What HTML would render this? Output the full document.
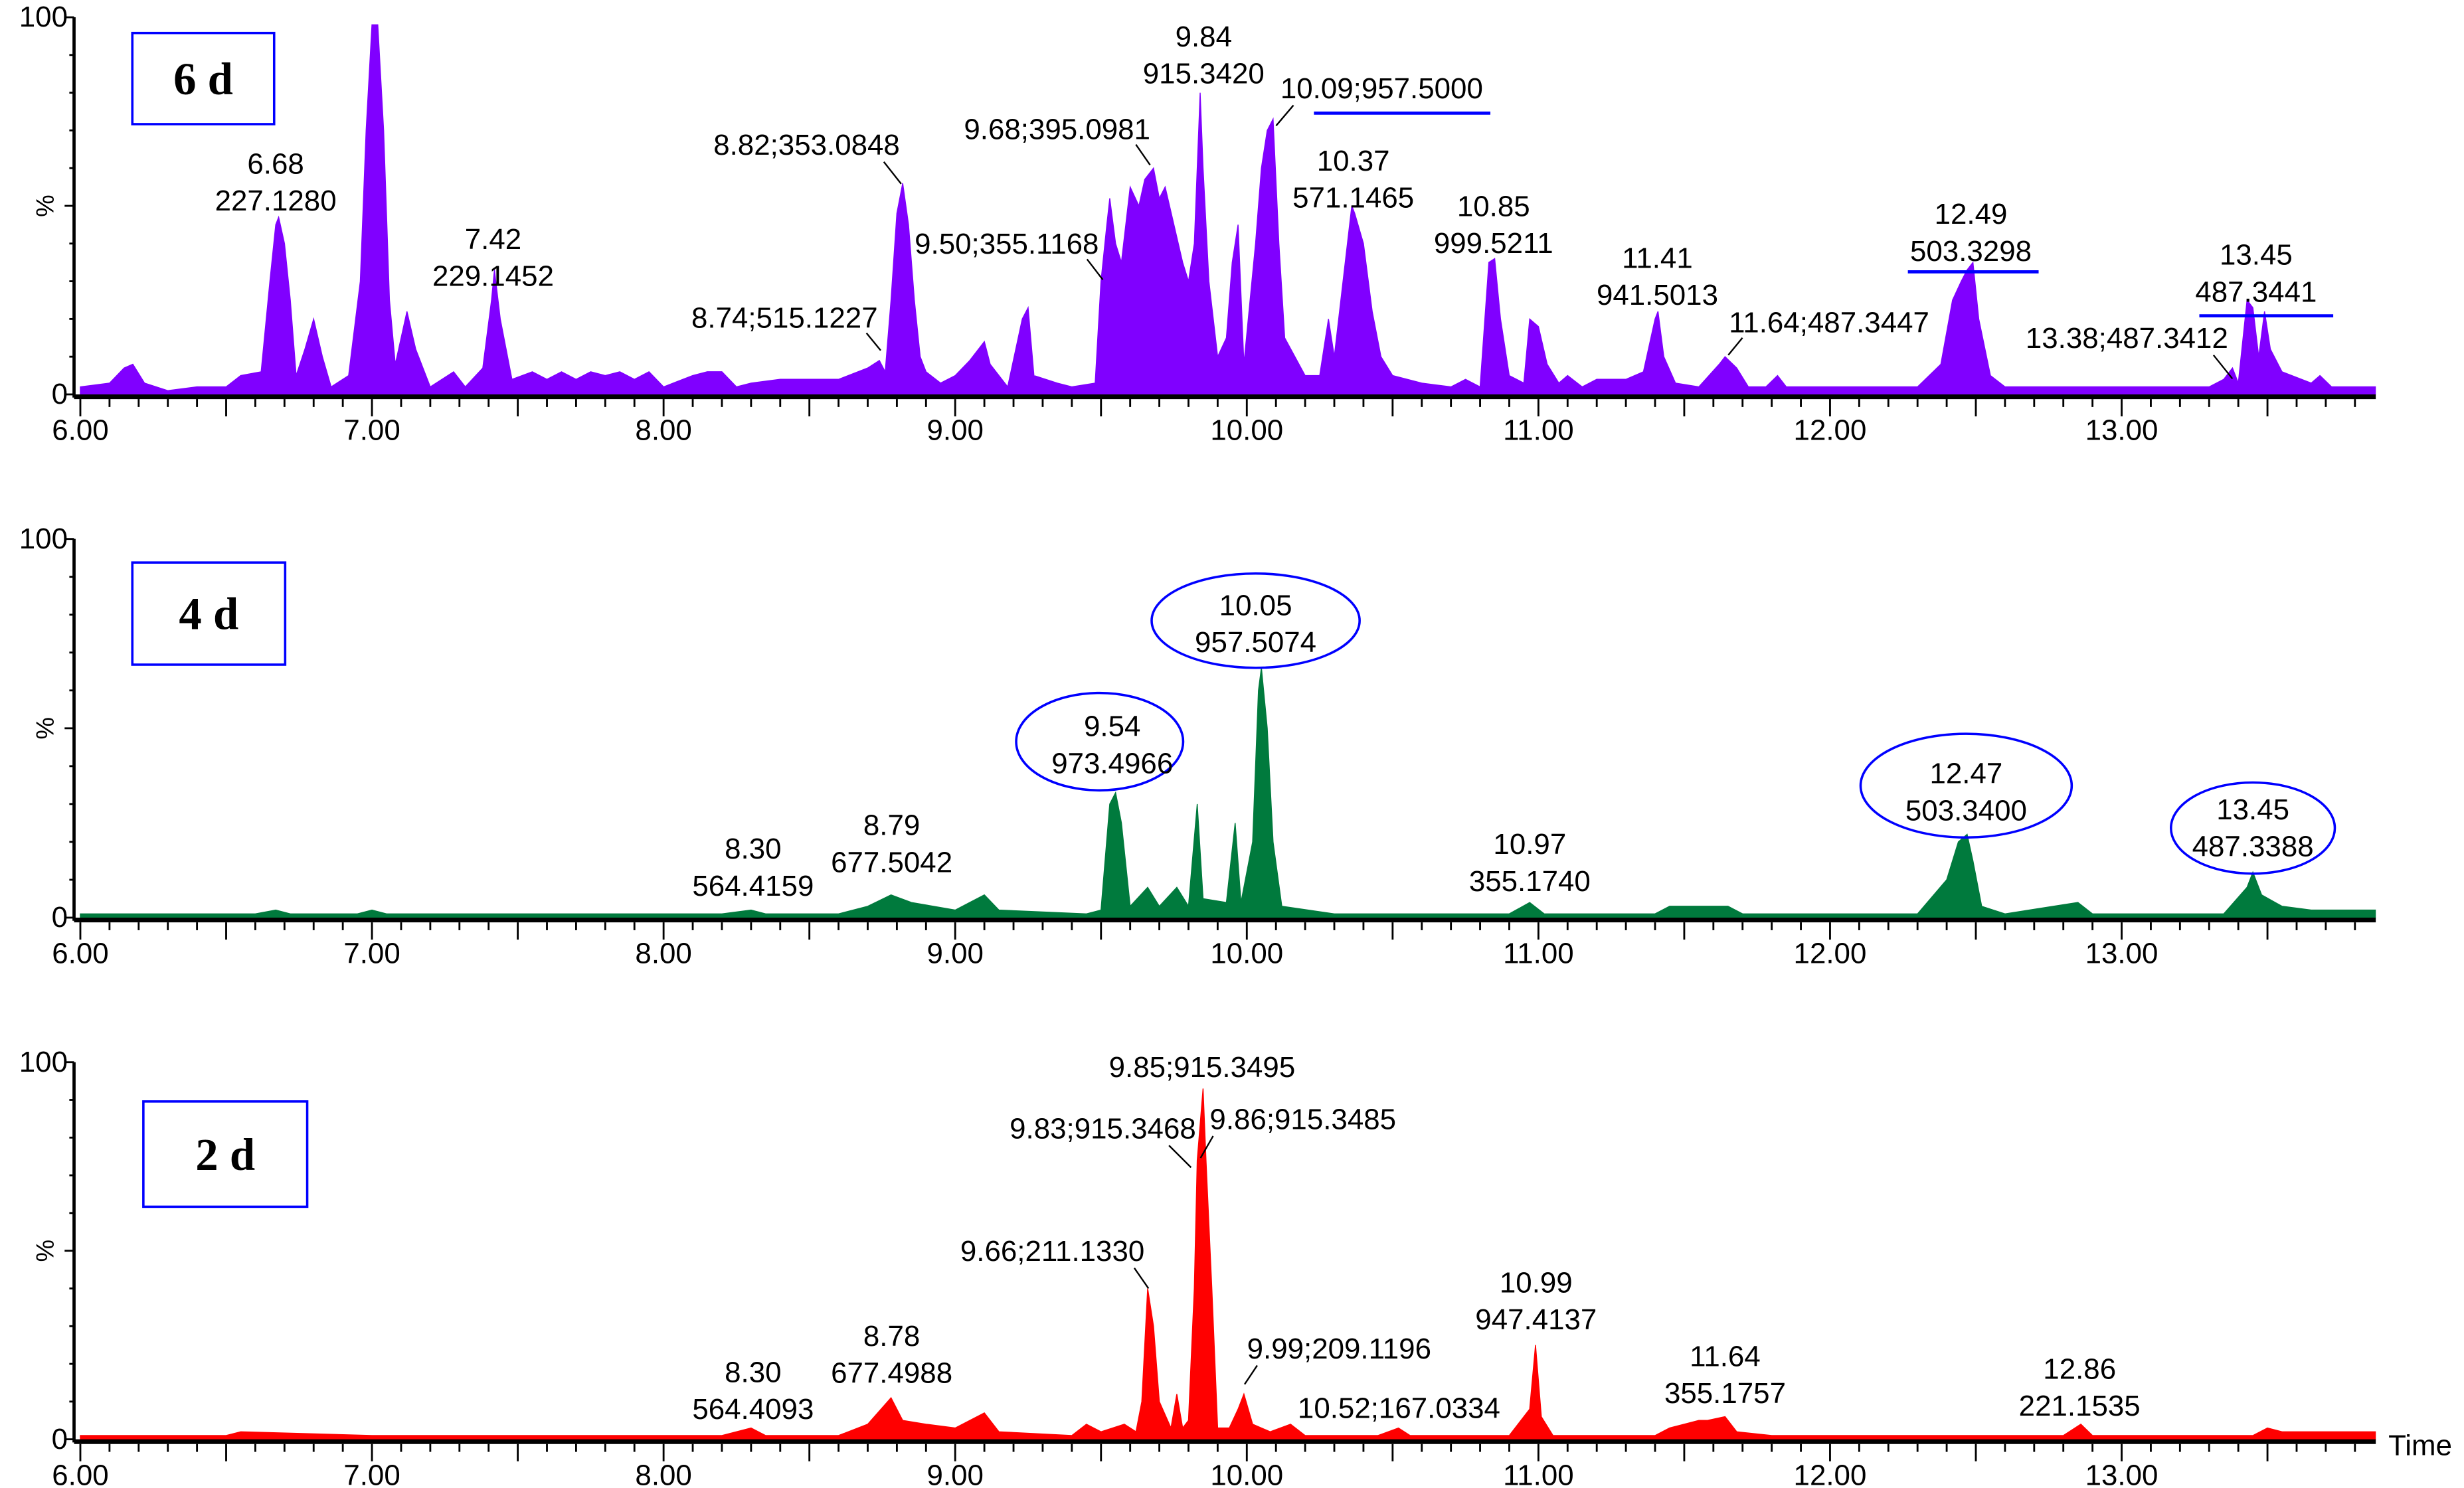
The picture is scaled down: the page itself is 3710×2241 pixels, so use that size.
<!DOCTYPE html>
<html><head><meta charset="utf-8"><style>
html,body{margin:0;padding:0;background:#fff;}
svg{display:block;}
text{font-family:"Liberation Sans",Arial,sans-serif;}
</style></head><body>
<svg id="chart" width="3710" height="2241" viewBox="0 0 1564 947" preserveAspectRatio="none" xmlns="http://www.w3.org/2000/svg"></svg>
<script>
// ---- data ----
const xTicks = ["6.00","7.00","8.00","9.00","10.00","11.00","12.00","13.00"];
const xTickValues = [6,7,8,9,10,11,12,13];
const panelNames = ["6 d","4 d","2 d"];

const times6d = [6.00,6.10,6.15,6.18,6.22,6.30,6.40,6.50,6.55,6.62,6.65,6.67,6.68,6.70,6.72,6.74,6.77,6.80,6.83,6.86,6.92,6.96,6.98,7.00,7.02,7.04,7.06,7.08,7.12,7.15,7.20,7.28,7.32,7.38,7.41,7.42,7.44,7.48,7.55,7.60,7.65,7.70,7.75,7.80,7.85,7.90,7.95,8.00,8.10,8.15,8.20,8.25,8.30,8.40,8.50,8.60,8.70,8.74,8.76,8.78,8.80,8.82,8.84,8.86,8.88,8.90,8.95,9.00,9.05,9.10,9.12,9.18,9.23,9.25,9.27,9.35,9.40,9.48,9.50,9.52,9.53,9.55,9.57,9.60,9.63,9.65,9.68,9.70,9.72,9.75,9.78,9.80,9.82,9.84,9.85,9.87,9.90,9.93,9.95,9.97,9.99,10.03,10.05,10.07,10.09,10.11,10.13,10.20,10.25,10.28,10.30,10.33,10.36,10.37,10.40,10.43,10.46,10.50,10.60,10.70,10.75,10.80,10.83,10.85,10.87,10.90,10.95,10.97,11.00,11.03,11.07,11.10,11.15,11.20,11.30,11.36,11.40,11.41,11.43,11.47,11.55,11.62,11.64,11.68,11.72,11.78,11.82,11.85,12.00,12.30,12.38,12.42,12.45,12.47,12.49,12.51,12.55,12.60,12.90,13.00,13.20,13.30,13.35,13.38,13.40,13.43,13.45,13.47,13.49,13.51,13.55,13.65,13.68,13.72,13.87];
const values6d = [2,3,7,8,3,1,2,2,5,6,30,45,47,40,25,5,12,20,10,2,5,30,70,98,98,70,25,8,22,12,2,6,2,7,25,33,20,4,6,4,6,4,6,5,6,4,6,2,5,6,6,2,3,4,4,4,7,9,6,25,48,56,45,25,10,6,3,5,9,14,8,2,20,23,5,3,2,3,30,45,52,40,35,55,50,57,60,52,55,45,35,30,40,80,60,30,10,15,35,45,8,40,60,70,73,40,15,5,5,20,10,30,50,48,40,22,10,5,3,2,4,2,35,36,20,5,3,20,18,8,3,5,2,4,4,6,20,22,10,3,2,8,10,7,2,2,5,2,2,2,8,25,30,33,35,20,5,2,2,2,2,2,4,7,3,25,23,10,22,12,6,3,5,2,2];

const times4d = [6.00,6.60,6.67,6.72,6.95,7.00,7.05,7.50,8.20,8.30,8.35,8.60,8.70,8.78,8.85,9.00,9.05,9.10,9.15,9.45,9.50,9.53,9.55,9.57,9.60,9.66,9.70,9.76,9.80,9.83,9.85,9.93,9.96,9.98,10.02,10.04,10.05,10.07,10.09,10.12,10.30,10.90,10.97,11.02,11.40,11.45,11.65,11.70,12.30,12.40,12.44,12.47,12.49,12.52,12.60,12.85,12.90,13.35,13.43,13.45,13.48,13.55,13.65,13.87];
const values4d = [1,1,2,1,1,2,1,1,1,2,1,1,3,6,4,2,4,6,2,1,2,30,33,25,3,8,3,8,3,30,5,4,25,4,20,60,66,50,20,3,1,1,4,1,1,3,3,1,1,10,20,22,15,3,1,4,1,1,8,12,6,3,2,2];

const times2d = [6.00,6.50,6.55,7.00,8.20,8.30,8.35,8.60,8.70,8.78,8.82,8.90,9.00,9.10,9.15,9.40,9.45,9.50,9.58,9.62,9.64,9.66,9.68,9.70,9.74,9.76,9.78,9.80,9.82,9.83,9.85,9.86,9.88,9.90,9.94,9.97,9.99,10.02,10.08,10.15,10.20,10.45,10.52,10.56,10.90,10.97,10.99,11.01,11.05,11.40,11.45,11.55,11.58,11.64,11.68,11.80,12.80,12.86,12.90,13.45,13.50,13.55,13.87];
const values2d = [1,1,2,1,1,3,1,1,4,11,5,4,3,7,2,1,4,2,4,2,10,40,30,10,3,12,3,5,40,74,93,74,40,3,3,8,12,4,2,4,1,1,3,1,1,8,25,6,1,1,3,5,5,6,2,1,1,4,1,1,3,2,2];

const seriesTimes = [times6d, times4d, times2d];
const seriesValues = [values6d, values4d, values2d];
const seriesColors = ["#8000ff","#007a3d","#ff0000"];

// ---- layout (viewBox units) ----
const X0 = 51, PX_PER_MIN = 185.1, AXIS_X = 47, AXIS_END = 1508;
const Y0 = [251, 584, 916], Y100 = [11, 343, 676];
const FS = 18.5;
function xScale(t){ return X0 + (t - 6) * PX_PER_MIN; }
function yScale(p, v){ return Y0[p] - (Y0[p] - Y100[p]) * v / 100; }

const svg = document.getElementById('chart');
const NS = "http://www.w3.org/2000/svg";
function mk(tag, attrs, parent){
  const e = document.createElementNS(NS, tag);
  for (const k in attrs) e.setAttribute(k, attrs[k]);
  (parent || svg).appendChild(e);
  return e;
}
function txt(s, x, y, size, parent, anchor){
  const t = mk('text', {x:x, y:y, 'font-size':size, 'text-anchor':anchor||'middle', fill:'#000'}, parent);
  t.textContent = s;
  return t;
}

for (let p = 0; p < 3; p++){
  const g = mk('g', {});
  
  
  const ts = seriesTimes[p], vs = seriesValues[p];
  let pts = xScale(ts[0]) + ',' + Y0[p] + ' ';
  for (let i = 0; i < ts.length; i++) pts += xScale(ts[i]).toFixed(2) + ',' + yScale(p, vs[i]).toFixed(2) + ' ';
  pts += xScale(ts[ts.length-1]) + ',' + Y0[p];
  const poly = mk('polygon', {points: pts, fill: seriesColors[p], stroke: seriesColors[p], 'stroke-width': 0.6}, g);
  
  
  const ya = mk('line', {x1:AXIS_X, y1:Y100[p], x2:AXIS_X, y2:Y0[p]+2, stroke:'#000', 'stroke-width':2}, g);
  
  
  const xa = mk('line', {x1:AXIS_X, y1:Y0[p]+1.5, x2:AXIS_END, y2:Y0[p]+1.5, stroke:'#000', 'stroke-width':3}, g);
  
  
  for (let k = 0; k <= 10; k++){
    const yy = yScale(p, k*10);
    const len = (k % 5 === 0) ? 6 : 3;
    mk('line', {x1:AXIS_X-len, y1:yy, x2:AXIS_X, y2:yy, stroke:'#000', 'stroke-width':1.2}, g);
  }
  const l100 = txt('100', 43, Y100[p]+6, FS, g, 'end');
  
  
  const l0 = txt('0', 43, Y0[p]+6, FS, g, 'end');
  
  
  const pc = txt('%', 0, 0, 16, g);
  pc.setAttribute('transform', 'translate(34,' + ((Y0[p]+Y100[p])/2) + ') rotate(-90)');
  
  
  for (let k = 0; k <= 78; k++){
    const t = 6 + k*0.1;
    const xx = xScale(t);
    if (xx > AXIS_END) break;
    const len = (k % 5 === 0) ? 11 : 5;
    mk('line', {x1:xx, y1:Y0[p]+3, x2:xx, y2:Y0[p]+3+len, stroke:'#000', 'stroke-width':1.2}, g);
  }
  for (let i = 0; i < xTicks.length; i++){
    const tl = txt(xTicks[i], xScale(xTickValues[i]), Y0[p]+29, FS, g);
    
    
  }
}

const boxes = [[84,21,90,58],[84,358,97,65],[91,701,104,67]];
for (let p = 0; p < 3; p++){
  const b = boxes[p];
  const r = mk('rect', {x:b[0], y:b[1], width:b[2], height:b[3], fill:'none', stroke:'#0000ff', 'stroke-width':1.5});
  
  
  const t = mk('text', {x:b[0]+b[2]/2, y:b[1]+b[3]/2+10, 'font-size':29, 'font-weight':'bold', 'text-anchor':'middle', fill:'#000', style:'font-family:"Liberation Serif",serif'});
  t.textContent = panelNames[p];
  
  
}
const timeLbl = txt('Time', 1516, 926, FS, svg, 'start');



function ann(lines, cx, y){
  const g = mk('g', {});
  
  
  lines.forEach((s, i) => txt(s, cx, y + i*23.5 + 6.5, FS, g));
}
function lead(x1,y1,x2,y2){ mk('line',{x1:x1,y1:y1,x2:x2,y2:y2,stroke:'#000','stroke-width':1}); }
function bline(x1,x2,y){ mk('line',{x1:x1,y1:y,x2:x2,y2:y,stroke:'#0000ff','stroke-width':2}); }
function ell(cx,cy,rx,ry){
  const e = mk('ellipse',{cx:cx,cy:cy,rx:rx,ry:ry,fill:'none',stroke:'#0000ff','stroke-width':1.5});
  
  
}
// panel 1
ann(["6.68","227.1280"],175,104);
ann(["7.42","229.1452"],313,152);
ann(["8.82;353.0848"],512,92); lead(561,103,572,117);
ann(["8.74;515.1227"],498,202); lead(550,212,559,223);
ann(["9.50;355.1168"],639,155); lead(690,165,700,178);
ann(["9.68;395.0981"],671,82); lead(721,92,730,105);
ann(["9.84","915.3420"],764,23);
ann(["10.09;957.5000"],877,56); lead(821,67,810,80); bline(834,946,72);
ann(["10.37","571.1465"],859,102);
ann(["10.85","999.5211"],948,131);
ann(["11.41","941.5013"],1052,164);
ann(["11.64;487.3447"],1161,205); lead(1106,215,1097,226);
ann(["12.49","503.3298"],1251,136); bline(1211,1294,173);
ann(["13.45","487.3441"],1432,162); bline(1396,1481,201);
ann(["13.38;487.3412"],1350,215); lead(1405,226,1417,241);
// panel 2
ann(["8.30","564.4159"],478,540);
ann(["8.79","677.5042"],566,525);
ell(698,472,53,31); ann(["9.54","973.4966"],706,462);
ell(797,395,66,30); ann(["10.05","957.5074"],797,385);
ann(["10.97","355.1740"],971,537);
ell(1248,500,67,33); ann(["12.47","503.3400"],1248,492);
ell(1430,527,52,29); ann(["13.45","487.3388"],1430,515);
// panel 3
ann(["8.30","564.4093"],478,873);
ann(["8.78","677.4988"],566,850);
ann(["9.85;915.3495"],763,679);
ann(["9.83;915.3468"],700,718); lead(742,729,756,743);
ann(["9.86;915.3485"],827,712); lead(770,723,762,737);
ann(["9.66;211.1330"],668,796); lead(720,807,729,820);
ann(["9.99;209.1196"],850,858); lead(798,869,790,881);
ann(["10.52;167.0334"],888,896);
ann(["10.99","947.4137"],975,816);
ann(["11.64","355.1757"],1095,863);
ann(["12.86","221.1535"],1320,871);
</script>
</body></html>
